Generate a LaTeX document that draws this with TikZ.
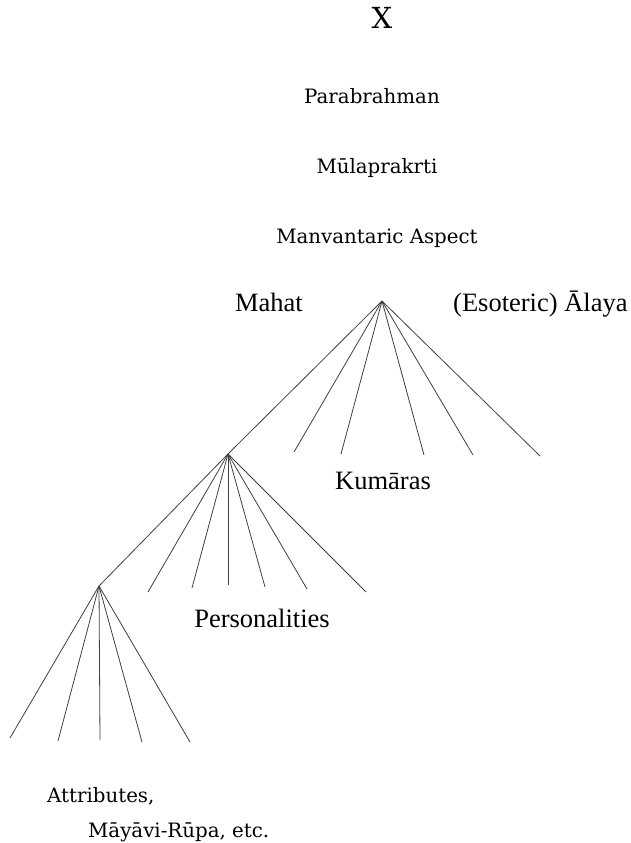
\documentclass[tikz,border=0pt]{standalone}
\usepackage{fontspec}
\newfontfamily\geo{DejaVu Serif}
\newfontfamily\tms{Liberation Serif}
\begin{document}
\begin{tikzpicture}[x=1pt,y=-1pt,
  geolab/.style={inner sep=0pt,anchor=base,font=\geo\fontsize{19.8}{22}\selectfont},
  tmslab/.style={inner sep=0pt,anchor=base,font=\tms\fontsize{26.5}{30}\selectfont},
  branch/.style={line width=0.8pt,draw=black!75}]
\useasboundingbox (0,0) rectangle (631,843);
% labels
\node[inner sep=0pt,anchor=base,font=\geo\fontsize{29}{32}\selectfont] (x) at (382,29) {X};
\node[geolab] (para) at (372,103) {Parabrahman};
\node[geolab] (mula) at (377,173) {Mūlaprakrti};
\node[geolab] (manv) at (377,243) {Manvantaric Aspect};
\node[tmslab] (mahat) at (269,311) {Mahat};
\node[tmslab,anchor=base west] (alaya) at (453,311) {(Esoteric) Ālaya};
\node[tmslab] (kum) at (383,489) {Kumāras};
\node[tmslab] (pers) at (262,627) {Personalities};
\node[geolab,anchor=base west] (attr) at (47,802) {Attributes,};
\node[geolab,anchor=base west] (maya) at (88,837) {Māyāvi-Rūpa, etc.};
% apexes
\coordinate (a1) at (382,301);
\coordinate (a2) at (228,454);
\coordinate (a3) at (99,586);
% first fan ends
\coordinate (k1) at (294,452);
\coordinate (k2) at (341,454);
\coordinate (k3) at (424,455);
\coordinate (k4) at (473,455);
\coordinate (k5) at (540,456);
% second fan ends
\coordinate (p1) at (148,592);
\coordinate (p2) at (192,588);
\coordinate (p3) at (228,585);
\coordinate (p4) at (265,587);
\coordinate (p5) at (307,589);
\coordinate (p6) at (366,592);
% third fan ends
\coordinate (t1) at (10,738);
\coordinate (t2) at (58,741);
\coordinate (t3) at (100,740);
\coordinate (t4) at (142,742);
\coordinate (t5) at (190,742);
% connectors
\draw[branch] (a1) -- (a2);
\foreach \e in {k1,k2,k3,k4,k5} \draw[branch] (a1) -- (\e);
\draw[branch] (a2) -- (a3);
\foreach \e in {p1,p2,p3,p4,p5,p6} \draw[branch] (a2) -- (\e);
\foreach \e in {t1,t2,t3,t4,t5} \draw[branch] (a3) -- (\e);
\end{tikzpicture}
\end{document}
